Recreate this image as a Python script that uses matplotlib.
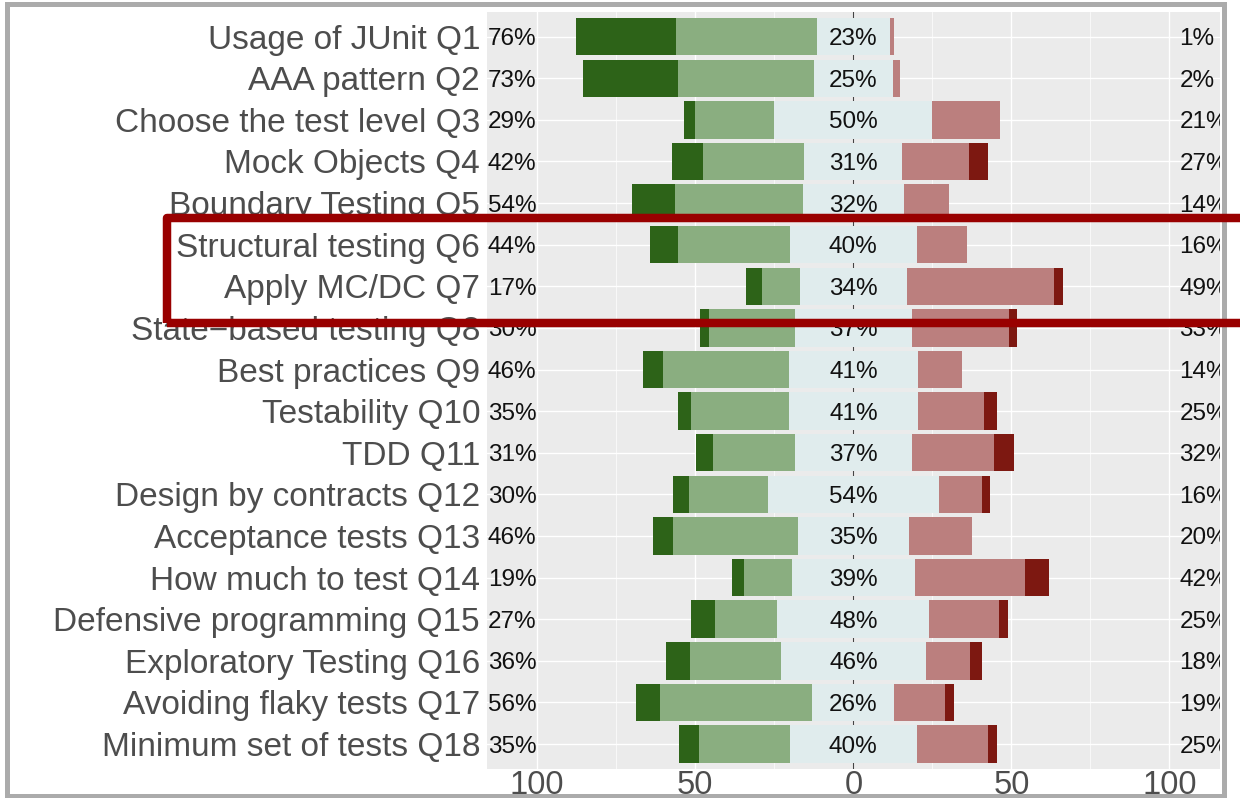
import matplotlib
matplotlib.use("Agg")
import matplotlib.pyplot as plt
from matplotlib.patches import Rectangle
import numpy as np

plt.rcParams['font.family'] = ['Liberation Sans', 'DejaVu Sans']

items = ["Usage of JUnit Q1", "AAA pattern Q2", "Choose the test level Q3",
         "Mock Objects Q4", "Boundary Testing Q5", "Structural testing Q6",
         "Apply MC/DC Q7", "State\u2212based testing Q8", "Best practices Q9",
         "Testability Q10", "TDD Q11", "Design by contracts Q12",
         "Acceptance tests Q13", "How much to test Q14", "Defensive programming Q15",
         "Exploratory Testing Q16", "Avoiding flaky tests Q17", "Minimum set of tests Q18"]

strongly_agree    = [31.6, 29.9, 3.7, 9.9, 13.4, 8.7, 4.9, 2.7, 6.3, 3.9, 5.3, 5.2, 6.5, 3.8, 7.5, 7.5, 7.5, 6.6]
agree             = [44.5, 43.1, 25.0, 32.0, 40.5, 35.5, 12.0, 27.3, 39.6, 31.0, 25.9, 24.9, 39.5, 15.1, 19.9, 28.7, 48.2, 28.7]
neutral           = [23, 25, 50, 31, 32, 40, 34, 37, 41, 41, 37, 54, 35, 39, 48, 46, 26, 40]
disagree          = [1.3, 2.4, 21.3, 21.2, 14.3, 16.1, 46.5, 30.9, 13.8, 20.9, 25.9, 13.6, 20.0, 34.8, 22.2, 13.9, 16.1, 22.6]
strongly_disagree = [0, 0, 0, 6.0, 0, 0, 2.7, 2.4, 0, 4.1, 6.3, 2.6, 0, 7.5, 2.8, 3.9, 2.8, 2.8]

x_ticks = [-100, -50, 0, 50, 100]
x_tick_labels = ["100", "50", "0", "50", "100"]

C_SA = "#2D6318"
C_A = "#8AAE80"
C_N = "#E0ECED"
C_D = "#BB7F7E"
C_SD = "#7D1811"

W, H = 1240, 798
fig = plt.figure(figsize=(W / 100, H / 100), dpi=100)
fig.patch.set_facecolor("white")
ax = fig.add_axes([487.3 / W, 1 - 769 / H, (1220 - 487.3) / W, (769 - 11.7) / H])
ax.set_facecolor("#EBEBEB")

y = np.arange(len(items))
sa = np.array(strongly_agree)
a = np.array(agree)
n = np.array(neutral, dtype=float)
d = np.array(disagree)
sd = np.array(strongly_disagree)

bh = 0.9
ax.barh(y, n, left=-n / 2, height=bh, color=C_N, zorder=3)
ax.barh(y, a, left=-n / 2 - a, height=bh, color=C_A, zorder=3)
ax.barh(y, sa, left=-n / 2 - a - sa, height=bh, color=C_SA, zorder=3)
ax.barh(y, d, left=n / 2, height=bh, color=C_D, zorder=3)
ax.barh(y, sd, left=n / 2 + d, height=bh, color=C_SD, zorder=3)

ax.axvline(0, color="#444444", lw=0.8, zorder=2)

def pct(v):
    return f"{int(np.floor(v + 0.5))}%"

fs_pct = 17.5
for i in range(len(items)):
    ax.text(-115.6, y[i], pct(sa[i] + a[i]), ha="left", va="center_baseline",
            fontsize=fs_pct, color="#111111", zorder=4, clip_on=True)
    ax.text(0, y[i], pct(n[i]), ha="center", va="center_baseline",
            fontsize=fs_pct, color="#111111", zorder=4, clip_on=True)
    ax.text(103.2, y[i], pct(d[i] + sd[i]), ha="left", va="center_baseline",
            fontsize=fs_pct, color="#111111", zorder=4, clip_on=True)

ax.set_xlim(-115.8, 116.0)
ax.set_ylim(len(items) - 1 + 0.6, -0.6)
ax.set_xticks(x_ticks)
ax.set_xticklabels(x_tick_labels)
ax.set_xticks([-75, -25, 25, 75], minor=True)
ax.set_yticks(y)
ax.set_yticklabels(items)
ax.grid(True, which="major", color="white", lw=1.0, zorder=1)
ax.grid(True, which="minor", axis="x", color="white", lw=0.5, zorder=1)
ax.set_axisbelow(True)
for s in ax.spines.values():
    s.set_visible(False)
ax.tick_params(axis="both", which="both", length=0)
ax.tick_params(axis="y", labelsize=24, labelcolor="#4D4D4D", pad=5.2)
ax.tick_params(axis="x", labelsize=23.5, labelcolor="#4D4D4D", pad=1.0)

# grey screenshot frame
frame = Rectangle((6.5 / W, 1 - 796 / H), (1224 - 6.5) / W, (796 - 4) / H,
                  transform=fig.transFigure, fill=False, edgecolor="#ABABAB",
                  lw=3.6, zorder=10, clip_on=False)
fig.add_artist(frame)

# red highlight box
hl = Rectangle((167 / W, 1 - 322.5 / H), 1.2, (322.5 - 217.5) / H,
               transform=fig.transFigure, fill=False, edgecolor="#990000",
               lw=6.1, zorder=11, clip_on=False, joinstyle="round")
fig.add_artist(hl)

fig.savefig("out.png", dpi=100)
